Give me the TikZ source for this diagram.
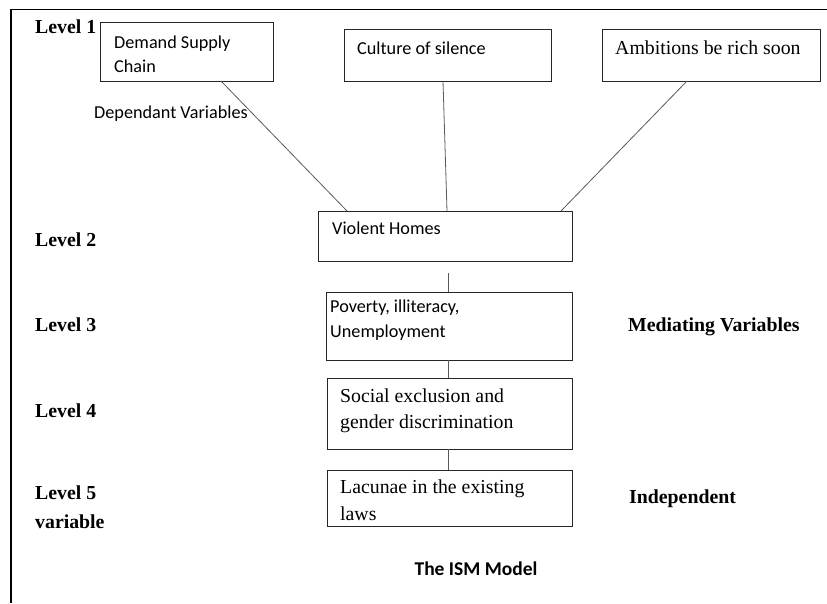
\documentclass[tikz,border=0pt]{standalone}
\usepackage{fontspec}
\setmainfont{Liberation Serif}
\newfontfamily\calib{Carlito}
\usetikzlibrary{calc}
\begin{document}
\begin{tikzpicture}[x=1pt,y=-1pt,
  box/.style={draw=black!85, line width=0.8pt, inner sep=0pt, outer sep=0pt, anchor=north west},
  conn/.style={draw=black!65, line width=0.8pt},
  sanstxt/.style={font=\calib\fontsize{18.2}{22}\selectfont, inner sep=0pt, anchor=base west},
  seriftxt/.style={font=\fontsize{19.8}{24}\selectfont, inner sep=0pt, anchor=base west},
  lvl/.style={font=\bfseries\fontsize{19.8}{24}\selectfont, inner sep=0pt, anchor=base west}]
\useasboundingbox (0,0) rectangle (827,603);
\draw[line width=1.6pt] (11,603) -- (11,9.5) -- (827,9.5);

% boxes
\node[box, minimum width=173pt, minimum height=59pt] (dsc) at (100,22) {};
\node[box, minimum width=207pt, minimum height=52pt] (cos) at (344,29) {};
\node[box, minimum width=218pt, minimum height=52pt] (abr) at (602,29) {};
\node[box, minimum width=254pt, minimum height=50pt] (vh) at (318,211) {};
\node[box, minimum width=246pt, minimum height=68pt] (pov) at (326,292) {};
\node[box, minimum width=245pt, minimum height=71pt] (soc) at (327,378) {};
\node[box, minimum width=245pt, minimum height=56pt] (lac) at (327,470) {};

% box texts
\node[sanstxt] (t1a) at (114,48) {Demand Supply};
\node[sanstxt] (t1b) at (114,72) {Chain};
\node[sanstxt] (t2) at (357,54) {Culture of silence};
\node[seriftxt] (t3) at (615,54) {Ambitions be rich soon};
\node[sanstxt] (t4) at (332,234) {Violent Homes};
\node[sanstxt] (t5a) at (330,312) {Poverty, illiteracy,};
\node[sanstxt] (t5b) at (330,337) {Unemployment};
\node[seriftxt] (t6a) at (340,402) {Social exclusion and};
\node[seriftxt] (t6b) at (340,428) {gender discrimination};
\node[seriftxt] (t7a) at (340,493) {Lacunae in the existing};
\node[seriftxt] (t7b) at (340,520) {laws};

% side labels
\node[sanstxt] (dep) at (94,118) {Dependant Variables};
\node[lvl] (l1) at (35,33) {Level 1};
\node[lvl] (l2) at (35,246) {Level 2};
\node[lvl] (l3) at (35,331) {Level 3};
\node[lvl] (l4) at (35,417) {Level 4};
\node[lvl] (l5) at (35,499) {Level 5};
\node[lvl] (l5b) at (35,528) {variable};
\node[lvl] (med) at (628,331) {Mediating Variables};
\node[lvl] (ind) at (629,503) {Independent};
\node[font=\calib\bfseries\fontsize{19.5}{23}\selectfont, inner sep=0pt, anchor=base] (title) at (476,575) {The ISM Model};

% connectors
\draw[conn] ($(dsc.south west)+(121,0)$) -- ($(vh.north west)+(29,0)$);
\draw[conn] ($(cos.south west)+(99,0)$) -- ($(vh.north west)+(129,0)$);
\draw[conn] ($(abr.south west)+(85,0)$) -- ($(vh.north west)+(243,0)$);
\coordinate (gap) at ($(vh.south west)+(130,12)$);
\draw[conn] (gap) -- ($(pov.north west)+(122,0)$);
\draw[conn] ($(pov.south west)+(122,0)$) -- ($(soc.north west)+(121,0)$);
\draw[conn] ($(soc.south west)+(121,0)$) -- ($(lac.north west)+(121,0)$);
\end{tikzpicture}
\end{document}
